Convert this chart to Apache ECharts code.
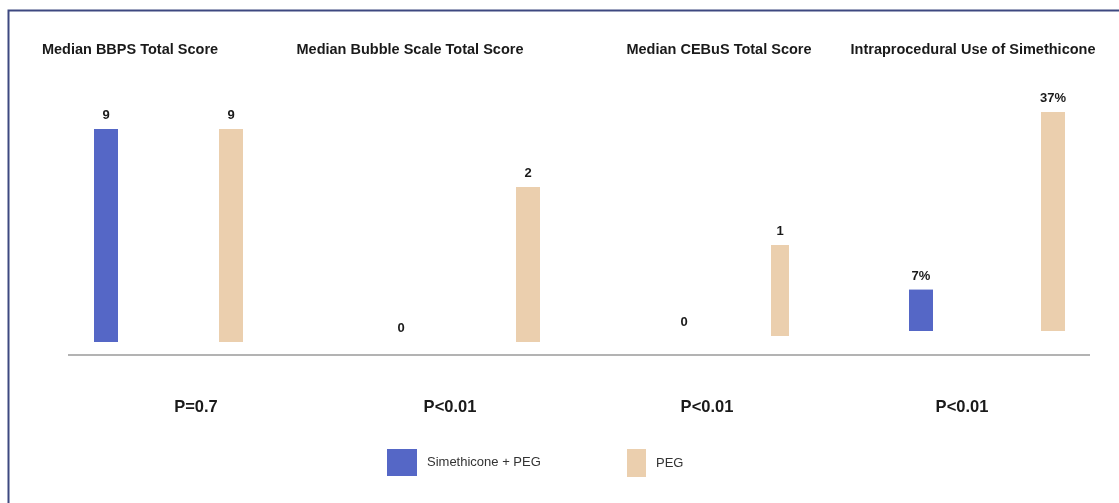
<!DOCTYPE html>
<html>
<head>
<meta charset="utf-8">
<script src="https://cdn.jsdelivr.net/npm/echarts@6/dist/echarts.min.js"></script>
<style>
  html, body { margin: 0; padding: 0; background: #fff; }
  #chart { width: 1119px; height: 503px; }
</style>
</head>
<body>
<div id="chart"></div>
<script>
// panel data
const panelTitles = [
  "Median BBPS Total Score",
  "Median Bubble Scale Total Score",
  "Median CEBuS Total Score",
  "Intraprocedural Use of Simethicone"
]
const pValues = ["P=0.7", "P<0.01", "P<0.01", "P<0.01"]
const seriesNames = ["Simethicone + PEG", "PEG"]
const simethiconePeg = [9, 0, 0, 7]
const pegOnly = [9, 2, 1, 37]
const valueSuffix = ["", "", "", "%"]

// layout of each small panel (left, width, top, height, bar width, title x, p x)
const panelBox = [
  { left: 43.5, width: 250, top: 129, height: 213, barW: 24, titleX: 130, pX: 196 },
  { left: 337.5, width: 254, top: 187, height: 155, barW: 24, titleX: 410, pX: 450 },
  { left: 636, width: 192, top: 245, height: 91, barW: 18, titleX: 719, pX: 707 },
  { left: 855, width: 265, top: 112, height: 219, barW: 24, titleX: 973, pX: 962 }
]

const colors = ["#5567c6", "#ebcfae"]
const font = "'Liberation Sans', Arial, sans-serif"

let grids = [], xAxes = [], yAxes = [], series = [], graphics = []

panelBox.forEach((box, i) => {
  grids.push({ left: box.left, width: box.width, top: box.top, height: box.height, containLabel: false })
  xAxes.push({ gridIndex: i, type: "category", data: seriesNames, show: false })
  yAxes.push({ gridIndex: i, type: "value", min: 0, max: "dataMax", show: false })
  const lbl = {
    show: true,
    position: "top",
    distance: 7,
    fontFamily: font,
    fontWeight: "bold",
    fontSize: 13,
    color: "#1a1a1a",
    formatter: p => p.value + valueSuffix[i]
  }
  series.push({
    name: seriesNames[0],
    type: "bar",
    xAxisIndex: i,
    yAxisIndex: i,
    barWidth: box.barW,
    barGap: "-100%",
    data: [simethiconePeg[i], "-"],
    itemStyle: { color: colors[0] },
    label: lbl
  })
  series.push({
    name: seriesNames[1],
    type: "bar",
    xAxisIndex: i,
    yAxisIndex: i,
    barWidth: box.barW,
    barGap: "-100%",
    data: ["-", pegOnly[i]],
    itemStyle: { color: colors[1] },
    label: lbl
  })
  //面板标题
  graphics.push({
    type: "text",
    x: box.titleX,
    y: 50,
    style: {
      text: panelTitles[i],
      textAlign: "center",
      textVerticalAlign: "middle",
      font: "bold 14.5px " + font,
      fill: "#1a1a1a"
    }
  })
  //P值
  graphics.push({
    type: "text",
    x: box.pX,
    y: 407,
    style: {
      text: pValues[i],
      textAlign: "center",
      textVerticalAlign: "middle",
      font: "bold 16.5px " + font,
      fill: "#1a1a1a"
    }
  })
})

//底部横线
graphics.push({
  type: "line",
  shape: { x1: 68, y1: 355, x2: 1090, y2: 355 },
  style: { stroke: "#9a9a9a", lineWidth: 1.5 }
})
//外框
graphics.push({
  type: "rect",
  shape: { x: 8.5, y: 10.5, width: 1200, height: 600 },
  style: { fill: null, stroke: "#3d4880", lineWidth: 2 }
})

const legendText = { fontFamily: font, fontSize: 13, color: "#333", padding: [0, 0, 0, 5] }

let option = {
  animation: false,
  backgroundColor: "#fff",
  grid: grids,
  xAxis: xAxes,
  yAxis: yAxes,
  legend: [
    {
      data: [seriesNames[0]],
      left: 387,
      top: 449,
      padding: 0,
      icon: "rect",
      itemWidth: 30,
      itemHeight: 27,
      textStyle: legendText,
      selectedMode: false
    },
    {
      data: [seriesNames[1]],
      left: 627,
      top: 449,
      padding: 0,
      icon: "rect",
      itemWidth: 19,
      itemHeight: 28,
      textStyle: legendText,
      selectedMode: false
    }
  ],
  series: series,
  graphic: graphics
}

const chartEl = echarts.init(document.getElementById("chart"))
chartEl.setOption(option)
</script>
</body>
</html>
